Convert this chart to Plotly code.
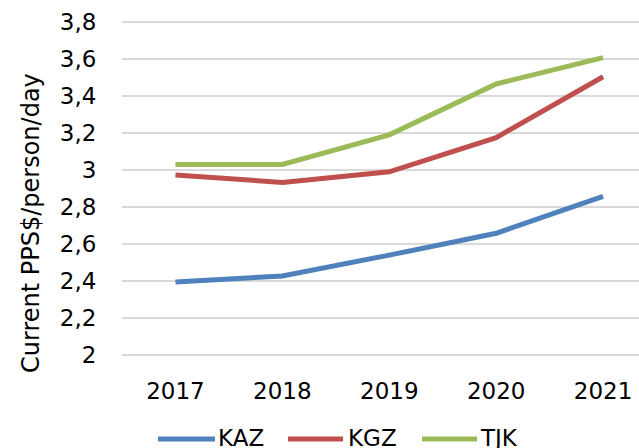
import plotly.graph_objects as go

years = ["2017", "2018", "2019", "2020", "2021"]
kaz = [2.395, 2.427, 2.540, 2.658, 2.858]
kgz = [2.973, 2.933, 2.990, 3.175, 3.504]
tjk = [3.030, 3.030, 3.190, 3.465, 3.607]

series = [("KAZ", kaz, "#4F81BD"), ("KGZ", kgz, "#C0504D"), ("TJK", tjk, "#9BBB59")]

font_family = "DejaVu Sans, Verdana, sans-serif"

W, H = 639, 448
ML, MR, MT, MB = 122, 0, 19, 90
PW, PH = W - ML - MR, H - MT - MB


def px_to_paper(xp, yp):
    return (xp - ML) / PW, (H - MB - yp) / PH


fig = go.Figure()
for name, vals, color in series:
    fig.add_trace(go.Scatter(x=years, y=vals, name=name, mode="lines",
                             line=dict(color=color, width=5), showlegend=False))

# custom legend (line sample + label) below the plot
legend_pos = [(158, 215, 218), (288, 343, 348), (422, 477, 480)]
shapes, annotations = [], []
for (name, vals, color), (x0, x1, xt) in zip(series, legend_pos):
    a0, ly = px_to_paper(x0, 439)
    a1, _ = px_to_paper(x1, 439)
    shapes.append(dict(type="line", xref="paper", yref="paper", x0=a0, x1=a1,
                       y0=ly, y1=ly, line=dict(color=color, width=5)))
    tx, ty = px_to_paper(xt, 438)
    annotations.append(dict(text=name, xref="paper", yref="paper", x=tx, y=ty,
                            xanchor="left", yanchor="middle", showarrow=False,
                            font=dict(size=23), xshift=-2))

tx, ty = px_to_paper(31, 223)
annotations.append(dict(text="Current PPS$/person/day", textangle=-90,
                        xref="paper", yref="paper", x=tx, y=ty,
                        xanchor="center", yanchor="middle", showarrow=False,
                        font=dict(size=24)))

fig.update_layout(
    width=W, height=H,
    margin=dict(l=ML, r=MR, t=MT, b=MB, autoexpand=False),
    paper_bgcolor="white", plot_bgcolor="white",
    font=dict(family=font_family, size=23, color="#000000"),
    separators=", ",
    showlegend=False,
    xaxis=dict(type="category", range=[-0.5, 4.336], showgrid=False,
               showline=False, zeroline=False, ticks="outside", ticklen=12,
               tickcolor="rgba(0,0,0,0)", tickfont=dict(size=23), automargin=False),
    yaxis=dict(range=[1.984, 3.816], dtick=0.2, tick0=2, showgrid=True,
               gridcolor="#D9D9D9", gridwidth=1.5, zeroline=False,
               showline=False, ticks="outside", ticklen=20,
               tickcolor="rgba(0,0,0,0)", tickfont=dict(size=23),
               tickformat=".1~f", automargin=False),
    shapes=shapes,
    annotations=annotations,
)

fig.write_html("out.html", config={"displayModeBar": False},
               post_script="document.body.style.margin='0px';document.body.style.overflow='hidden';")
